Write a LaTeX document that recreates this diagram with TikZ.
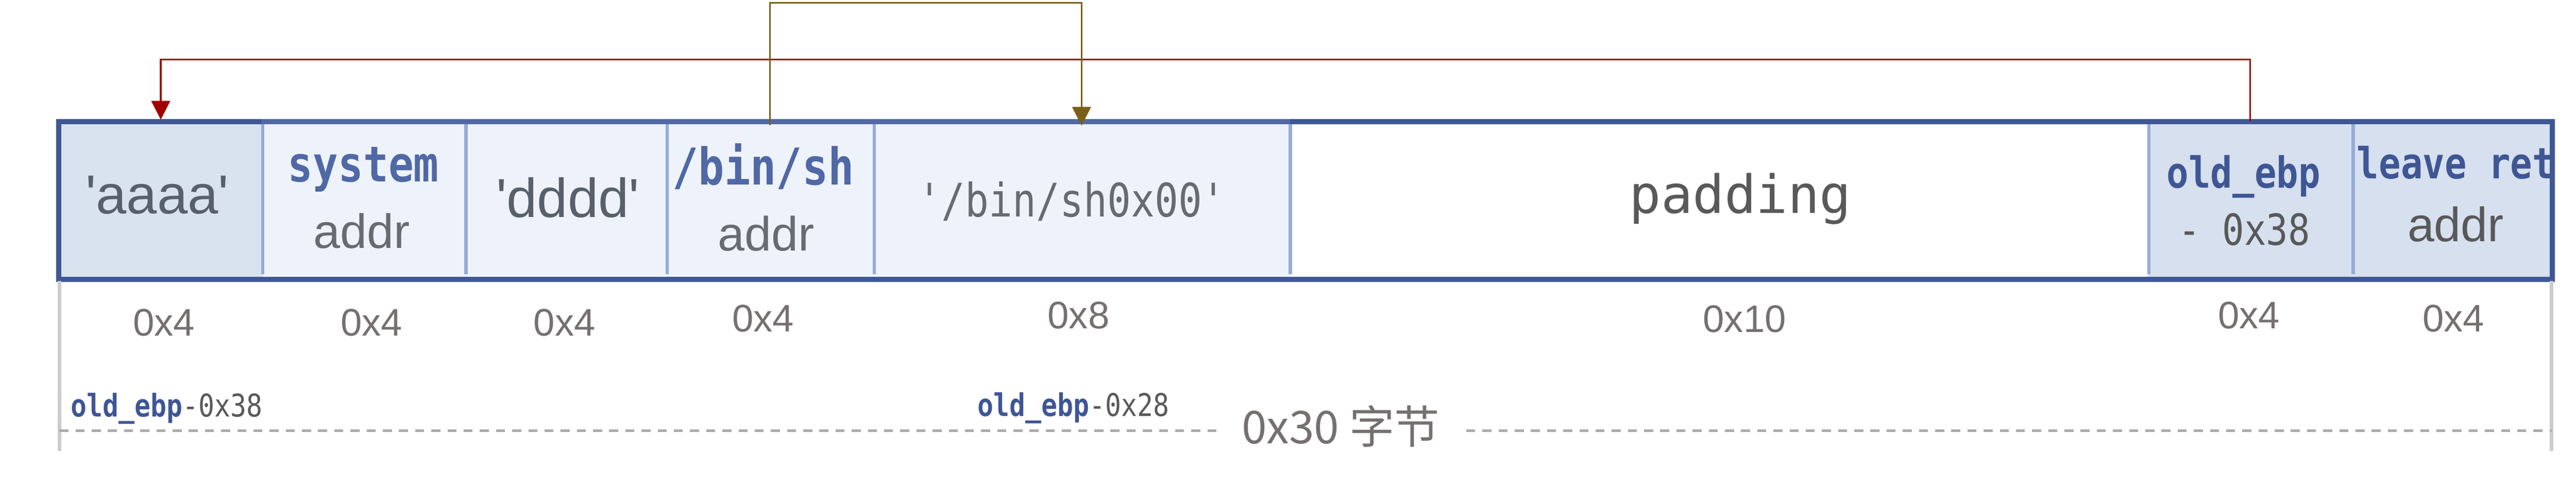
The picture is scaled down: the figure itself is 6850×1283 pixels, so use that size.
\documentclass[tikz,border=0pt]{standalone}
\usepackage{fontspec}
\usetikzlibrary{arrows.meta}
\newfontfamily\sansf{Liberation Sans}
\newfontfamily\cjkf{Noto Sans CJK SC}
\newfontfamily\monof{DejaVu Sans Mono}
\newfontfamily\monon{DejaVu Sans Mono}[FakeStretch=0.85]
\newcommand\setfs[1]{\fontsize{#1pt}{#1pt}\selectfont}
\definecolor{cellA}{HTML}{D9E3EF}
\definecolor{cellL}{HTML}{EEF3FB}
\definecolor{cellR}{HTML}{D6E0EE}
\definecolor{divc}{HTML}{95ABDA}
\definecolor{bordc}{HTML}{3F5794}
\definecolor{bordl}{HTML}{5169A5}
\definecolor{blueL}{HTML}{5068A6}
\definecolor{blueD}{HTML}{3F5695}
\definecolor{grayA}{HTML}{58606B}
\definecolor{grayT}{HTML}{686B72}
\definecolor{grayS}{HTML}{757170}
\definecolor{grayP}{HTML}{595959}
\definecolor{lineG}{HTML}{CCCCCC}
\definecolor{dashG}{HTML}{AAAAAA}
\definecolor{redc}{HTML}{A00000}
\definecolor{olivec}{HTML}{7A5F17}
\begin{document}
\begin{tikzpicture}[x=0.1pt,y=-0.1pt,
  cell/.style={draw=none,inner sep=0pt,minimum height=41.5pt},
  txt/.style={inner sep=0pt,anchor=base},
  sizelab/.style={txt,font=\sansf\setfs{10.2},text=grayS},
  quoted/.style={txt,font=\sansf\setfs{14.6},text=grayA},
  addrlab/.style={txt,font=\sansf\setfs{12.8},text=grayT},
  bigmono/.style={txt,font=\monon\bfseries\setfs{13.1},text=blueL},
  ebpmono/.style={txt,font=\monon\bfseries\setfs{11.4},text=blueD},
  border/.style={draw=bordc,line width=1.4pt},
  divider/.style={draw=divc,line width=0.9pt},
  redarrow/.style={draw=redc,line width=0.45pt,-{Triangle[length=5pt,width=5pt]}},
  olivearrow/.style={draw=olivec,line width=0.4pt,-{Triangle[length=5pt,width=5pt]}},
  tickline/.style={draw=lineG,line width=1pt},
  dimline/.style={draw=dashG,line width=0.65pt,dash pattern=on 2.4pt off 1.9pt}
]
\useasboundingbox (0,0) rectangle (6850,1283);
% cells
\node[cell,fill=cellA,minimum width=53.9pt] (aaaa) at (427.5,532.5) {};
\node[cell,fill=cellL,minimum width=54.0pt] (system) at (967,532.5) {};
\node[cell,fill=cellL,minimum width=53.5pt] (dddd) at (1504.5,532.5) {};
\node[cell,fill=cellL,minimum width=55.1pt] (binsh) at (2047.5,532.5) {};
\node[cell,fill=cellL,minimum width=110.6pt] (binstr) at (2876,532.5) {};
\node[cell,fill=white,minimum width=228.3pt] (padding) at (4570.5,532.5) {};
\node[cell,fill=cellR,minimum width=54.3pt] (oldebp) at (5983.5,532.5) {};
\node[cell,fill=cellR,minimum width=53.0pt] (leave) at (6520,532.5) {};
% cell texts
\node[quoted] (taaaa) at (418,568) {'aaaa'};
\node[bigmono] (tsys) at (966,483) {system};
\node[addrlab] (tsysaddr) at (962,659) {addr};
\node[quoted] (tdddd) at (1510,577) {'dddd'};
\node[bigmono,font=\monon\bfseries\setfs{13.5}] (tbinsh) at (2030,491) {/bin/sh};
\node[addrlab] (tbinshaddr) at (2037,667) {addr};
\node[txt,font=\monon\setfs{12.3},text=grayT] (tbinstr) at (2850,576) {'/bin/sh0x00'};
\node[txt,font=\monof\setfs{14},text=grayP] (tpad) at (4628,567) {padding};
\node[ebpmono] (tebp) at (5966,500) {old\_ebp};
\node[txt,font=\monon\setfs{11.4},text=grayP] (tebp2) at (5968,652) {- 0x38};
\node[ebpmono] (tleave) at (6530,475) {leave ret};
\node[addrlab,text=grayP] (tleaveaddr) at (6530,642) {addr};
% border
\draw[border] (aaaa.north west) rectangle (leave.south east);
\draw[border,draw=bordl] (system.north west) -- (binstr.north east);
% dividers
\foreach \c in {aaaa,system,dddd,binsh,binstr,padding,oldebp}{
  \draw[divider] ([yshift=-0.7pt]\c.north east) -- ([yshift=1.3pt]\c.south east);
}
% connectors
\coordinate (redtop) at (0,158);
\coordinate (olivetop) at (0,7);
\draw[redarrow,shorten >=0.5pt] (oldebp.north) -- (oldebp.north |- redtop) -| (aaaa.north);
\draw[olivearrow,shorten >=-1.1pt] ([yshift=-1pt]binsh.north) -- (binsh.north |- olivetop) -| (binstr.north);
% size labels
\node[sizelab] (s1) at (436,892) {0x4};
\node[sizelab] (s2) at (988,892) {0x4};
\node[sizelab] (s3) at (1501,892) {0x4};
\node[sizelab] (s4) at (2029,882) {0x4};
\node[sizelab] (s5) at (2868,874) {0x8};
\node[sizelab] (s6) at (4639,883) {0x10};
\node[sizelab] (s7) at (5980,874) {0x4};
\node[sizelab] (s8) at (6524,882) {0x4};
% ticks and dimension line
\coordinate (tickLa) at (158,746);
\coordinate (tickLb) at (158,1199);
\coordinate (tickRa) at (6785,746);
\coordinate (tickRb) at (6785,1199);
\draw[tickline] (tickLa) -- (tickLb);
\draw[tickline] (tickRa) -- (tickRb);
\coordinate (dimL) at (158,1145);
\coordinate (dimR) at (6785,1145);
\draw[dimline] (dimL) -- (dimR);
\node[inner xsep=6.7pt,inner ysep=2pt,fill=white,font=\cjkf\setfs{12},text=grayS] (bytes) at (3565,1133) {0x30 字节};
% offsets
\node[txt,anchor=base west,font=\monon\setfs{8.3}] (off38) at (186,1108) {{\bfseries\color{blueD}old\_ebp}{\color{grayP}-0x38}};
\node[txt,anchor=base west,font=\monon\setfs{8.3}] (off28) at (2597,1106) {{\bfseries\color{blueD}old\_ebp}{\color{grayP}-0x28}};
\end{tikzpicture}
\end{document}
